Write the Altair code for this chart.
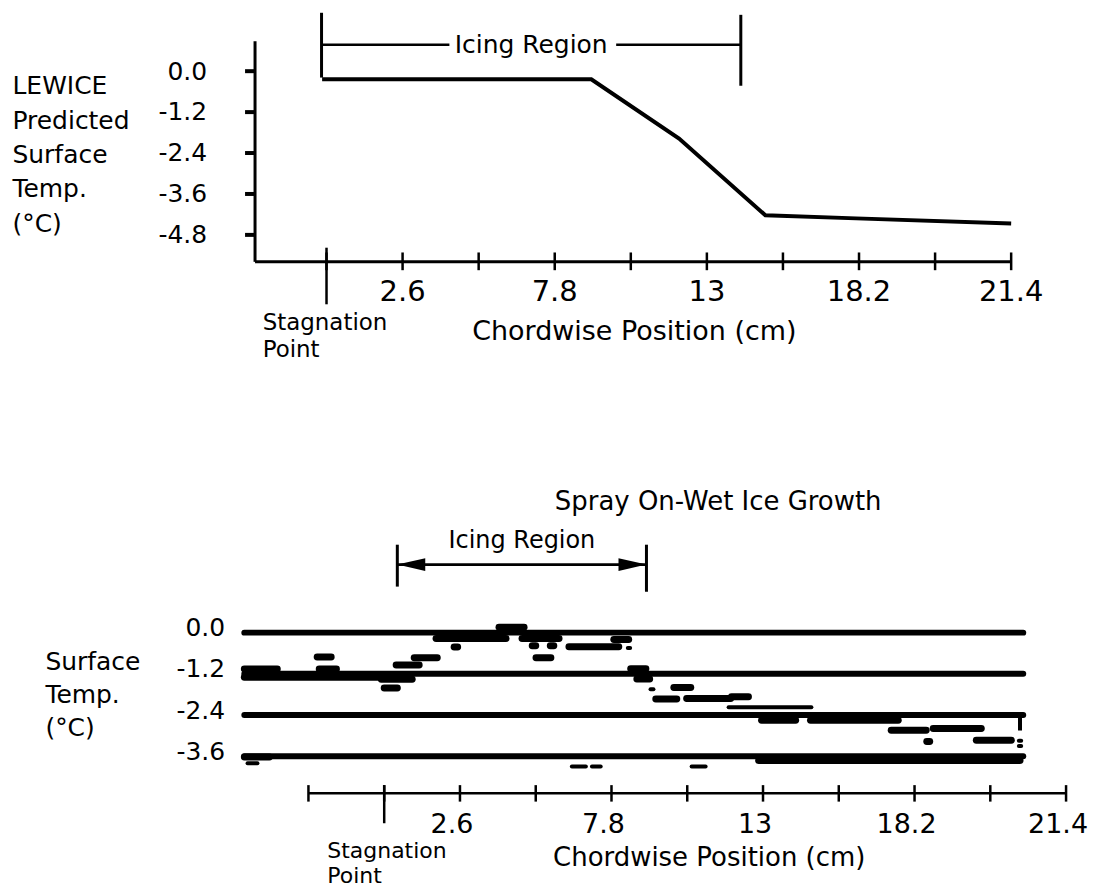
import altair as alt
import pandas as pd

FONT = "DejaVu Sans"

# ---------------- data: top panel (LEWICE prediction) ----------------
lew_x = [-0.15, 9.05, 12.05, 15.0, 18.1, 23.4]          # chordwise position (cm)
lew_t = [-0.24, -0.24, -1.98, -4.23, -4.32, -4.47]      # surface temperature (C)
top_temp_ticks = [0.0, -1.2, -2.4, -3.6, -4.8]
chord_ticks = [0.0, 2.6, 5.2, 7.8, 10.4, 13.0, 15.6, 18.2, 20.8, 23.4]
chord_label_at = [2.6, 7.8, 13.0, 18.2, 23.4]
chord_label_text = ["2.6", "7.8", "13", "18.2", "21.4"]
top_icing = [-0.17, 14.16]          # icing region extent (cm)
top_icing_gap = [4.2, 9.9]          # where the label interrupts the bracket

# ---------------- data: bottom panel (spray on-wet ice growth) ----------------
bot_temp_levels = [0.0, -1.2, -2.4, -3.6]
bot_line_extent = [-4.8, 21.93]
blob_x1 = [1.78, 3.94, 4.73, 7.88, -2.30, 1.03, 2.40, 5.08, 5.70, 5.21, 6.34,
           -4.80, -4.80, -2.23, -0.10, 0.41, 0.00, 8.46, 8.67, 9.94, 9.32, 10.38,
           11.92, 12.95, 14.63, 17.40, 18.84, 18.62, 20.32, 12.85, -4.80]
blob_x2 = [4.18, 4.80, 6.00, 8.39, -1.82, 1.82, 2.52, 5.20, 5.82, 5.72, 8.05,
           -3.67, -0.10, -1.64, 0.96, 1.20, 0.45, 8.98, 9.11, 10.52, 10.04, 11.89,
           12.50, 14.12, 17.64, 18.60, 20.49, 18.72, 21.52, 21.82, -3.94]
blob_t = [-0.17, 0.16, -0.17, -0.20, -0.71, -0.73, -0.42, -0.38, -0.38, -0.73, -0.41,
          -1.06, -1.30, -1.06, -1.36, -0.94, -1.61, -1.05, -1.35, -1.60, -1.93, -1.92,
          -1.87, -2.55, -2.55, -2.84, -2.79, -3.17, -3.13, -3.72, -3.62]
fine_x1 = [8.36, 9.14, 11.82, -4.69, 6.44, 7.13, 10.55, 21.78, 21.78]
fine_x2 = [8.44, 9.24, 14.66, -4.35, 6.92, 7.43, 11.03, 21.86, 21.86]
fine_t = [-0.45, -1.65, -2.17, -3.80, -3.90, -3.90, -3.90, -3.15, -3.30]
end_drop_x = [21.82]
end_drop_t1 = [-2.40]
end_drop_t2 = [-2.85]
bot_ticks = [-2.6] + chord_ticks
bot_icing = [0.45, 9.0]

# ---------------- scales & axes ----------------
X_TOP = [-2.46, 23.4]
T_TOP = [-5.58, 0.89]
X_BOT = [-4.45, 23.4]
T_BOT = [-4.68, 0.9]

xs_top = alt.Scale(domain=X_TOP, nice=False, zero=False)
ys_top = alt.Scale(domain=T_TOP, nice=False, zero=False)
xs_bot = alt.Scale(domain=X_BOT, nice=False, zero=False)
ys_bot = alt.Scale(domain=T_BOT, nice=False, zero=False)

LABEL_EXPR = "replace(format(datum.value, '.1f'), '\u2212', '-')"

ax_top_x = alt.Axis(domain=True, domainColor="black", domainWidth=3,
                    ticks=False, labels=False, grid=False,
                    title="Chordwise Position (cm)", titleFont=FONT,
                    titleFontSize=27, titleFontWeight="normal",
                    titleColor="black", titleX=380, titleY=70,
                    titleAlign="center", titleBaseline="middle")
ax_top_y = alt.Axis(values=top_temp_ticks, domain=True, domainColor="black",
                    domainWidth=3, ticks=True, tickColor="black", tickWidth=4,
                    tickSize=10, labelExpr=LABEL_EXPR, labelFont=FONT,
                    labelFontSize=25, labelColor="black", labelPadding=38,
                    grid=False,
                    title=["LEWICE", "Predicted", "Surface", "Temp.", "(\u00b0C)"],
                    titleAngle=0, titleAlign="left", titleBaseline="middle",
                    titleX=-243, titleY=45, titleLineHeight=34.5,
                    titleFont=FONT, titleFontSize=25,
                    titleFontWeight="normal", titleColor="black")
ax_bot_x = alt.Axis(domain=False, ticks=False, labels=False, grid=False,
                    title="Chordwise Position (cm)", titleFont=FONT,
                    titleFontSize=26, titleFontWeight="normal",
                    titleColor="black", titleX=455, titleY=64,
                    titleAlign="center", titleBaseline="middle")
ax_bot_y = alt.Axis(values=bot_temp_levels, domain=False, ticks=False, tickSize=0,
                    labelExpr=LABEL_EXPR, labelFont=FONT, labelFontSize=25,
                    labelColor="black", labelPadding=30, labelOffset=-5, grid=False,
                    title=["Surface", "Temp.", "(\u00b0C)"],
                    titleAngle=0, titleAlign="left", titleBaseline="middle",
                    titleX=-210, titleY=60, titleLineHeight=33,
                    titleFont=FONT, titleFontSize=25,
                    titleFontWeight="normal", titleColor="black")

TOP = dict(xs=xs_top, ys=ys_top, ax=ax_top_x, ay=ax_top_y)
BOT = dict(xs=xs_bot, ys=ys_bot, ax=ax_bot_x, ay=ax_bot_y)


def xq(field, P):
    return alt.X(field, type="quantitative", scale=P["xs"], axis=P["ax"])


def yq(field, P):
    return alt.Y(field, type="quantitative", scale=P["ys"], axis=P["ay"])


def yd(v, P):
    return alt.YDatum(datum=v, scale=P["ys"], axis=P["ay"])


# ================= TOP PANEL =================
top_df = pd.DataFrame({"x": lew_x, "t": lew_t})
curve = alt.Chart(top_df).mark_line(color="black", strokeWidth=4).encode(
    x=xq("x", TOP), y=yq("t", TOP), order=alt.Order("x:Q"))

top_ticks = alt.Chart(pd.DataFrame({"x": chord_ticks})).mark_rule(color="black", strokeWidth=2.5).encode(
    x=xq("x", TOP), y=yd(T_TOP[0] + 0.26, TOP), y2=alt.Y2Datum(T_TOP[0] - 0.26))

top_stag = alt.Chart(pd.DataFrame({"x": [0.0]})).mark_rule(color="black", strokeWidth=2.5).encode(
    x=xq("x", TOP), y=yd(T_TOP[0] + 0.4, TOP), y2=alt.Y2Datum(T_TOP[0] - 1.26))

top_labels = alt.Chart(pd.DataFrame({"x": chord_label_at, "txt": chord_label_text})).mark_text(
    font=FONT, fontSize=29, color="black", baseline="middle", dy=31
).encode(x=xq("x", TOP), y=yd(T_TOP[0], TOP), text="txt:N")

top_stag_text = alt.Chart(pd.DataFrame({"x": [0.0]})).mark_text(
    font=FONT, fontSize=23, color="black", align="left", baseline="top",
    text=["Stagnation", "Point"], lineHeight=27, dx=-64, dy=51
).encode(x=xq("x", TOP), y=yd(T_TOP[0], TOP))

top_br_v = pd.DataFrame({"x": top_icing, "t1": [1.71, 1.65], "t2": [-0.19, -0.43]})
top_bracket_v = alt.Chart(top_br_v).mark_rule(color="black", strokeWidth=3).encode(
    x=xq("x", TOP), y=yq("t1", TOP), y2="t2:Q")
top_br_h = pd.DataFrame({"x1": [top_icing[0], top_icing_gap[1]],
                         "x2": [top_icing_gap[0], top_icing[1]]})
top_bracket_h = alt.Chart(top_br_h).mark_rule(color="black", strokeWidth=2.5).encode(
    x=xq("x1", TOP), x2="x2:Q", y=yd(0.77, TOP))
top_icing_text = alt.Chart(pd.DataFrame({"a": [top_icing[0]], "b": [top_icing[1]]})).transform_calculate(
    mid="(datum.a + datum.b) / 2"
).mark_text(font=FONT, fontSize=25, color="black", baseline="middle", text="Icing Region").encode(
    x=xq("mid", TOP), y=yd(0.77, TOP))

top = alt.layer(curve, top_ticks, top_stag, top_labels, top_stag_text,
                top_bracket_v, top_bracket_h, top_icing_text).properties(width=758, height=221)

# ================= BOTTOM PANEL =================
lvl_df = pd.DataFrame({"t": bot_temp_levels, "a": bot_line_extent[0], "b": bot_line_extent[1]})
ref_lines = alt.Chart(lvl_df).mark_rule(color="black", strokeWidth=6, strokeCap="round").encode(
    x=xq("a", BOT), x2="b:Q", y=yq("t", BOT))

blobs = alt.Chart(pd.DataFrame({"x1": blob_x1, "x2": blob_x2, "t": blob_t})).mark_rule(
    color="black", strokeWidth=7, strokeCap="round").encode(
    x=xq("x1", BOT), x2="x2:Q", y=yq("t", BOT))

fines = alt.Chart(pd.DataFrame({"x1": fine_x1, "x2": fine_x2, "t": fine_t})).mark_rule(
    color="black", strokeWidth=4, strokeCap="round").encode(
    x=xq("x1", BOT), x2="x2:Q", y=yq("t", BOT))

drop = alt.Chart(pd.DataFrame({"x": end_drop_x, "t1": end_drop_t1, "t2": end_drop_t2})).mark_rule(
    color="black", strokeWidth=4).encode(x=xq("x", BOT), y=yq("t1", BOT), y2="t2:Q")

bot_axis = alt.Chart(pd.DataFrame({"a": [bot_ticks[0]], "b": [bot_ticks[-1]]})).mark_rule(
    color="black", strokeWidth=2.5).encode(x=xq("a", BOT), x2="b:Q", y=yd(T_BOT[0], BOT))

bot_tick_marks = alt.Chart(pd.DataFrame({"x": bot_ticks})).mark_rule(color="black", strokeWidth=2.5).encode(
    x=xq("x", BOT), y=yd(T_BOT[0] + 0.24, BOT), y2=alt.Y2Datum(T_BOT[0] - 0.24))

bot_stag = alt.Chart(pd.DataFrame({"x": [0.0]})).mark_rule(color="black", strokeWidth=2.5).encode(
    x=xq("x", BOT), y=yd(T_BOT[0] + 0.24, BOT), y2=alt.Y2Datum(T_BOT[0] - 0.87))

bot_labels = alt.Chart(pd.DataFrame({"x": chord_label_at, "txt": chord_label_text})).mark_text(
    font=FONT, fontSize=27, color="black", baseline="middle", dy=32, dx=-8
).encode(x=xq("x", BOT), y=yd(T_BOT[0], BOT), text="txt:N")

bot_stag_text = alt.Chart(pd.DataFrame({"x": [0.0]})).mark_text(
    font=FONT, fontSize=22, color="black", align="left", baseline="top",
    text=["Stagnation", "Point"], lineHeight=25, dx=-57, dy=48
).encode(x=xq("x", BOT), y=yd(T_BOT[0], BOT))

bot_br_v = pd.DataFrame({"x": bot_icing, "t1": [2.56, 2.56], "t2": [1.34, 1.19]})
bot_bracket_v = alt.Chart(bot_br_v).mark_rule(color="black", strokeWidth=3).encode(
    x=xq("x", BOT), y=yq("t1", BOT), y2="t2:Q")
bot_bracket_h = alt.Chart(pd.DataFrame({"a": [bot_icing[0]], "b": [bot_icing[1]]})).mark_rule(
    color="black", strokeWidth=3).encode(x=xq("a", BOT), x2="b:Q", y=yd(1.98, BOT))
arrows = alt.Chart(pd.DataFrame({"x": bot_icing, "side": ["left", "right"]})).mark_point(
    filled=True, opacity=1, color="black", size=784, strokeWidth=0).encode(
    x=xq("x", BOT), y=yd(1.98, BOT),
    shape=alt.Shape("side:N", scale=alt.Scale(
        domain=["left", "right"],
        range=["M0,0L2,-0.45L2,0.45Z", "M0,0L-2,-0.45L-2,0.45Z"]), legend=None))
bot_icing_text = alt.Chart(pd.DataFrame({"a": [bot_icing[0]], "b": [bot_icing[1]]})).transform_calculate(
    mid="(datum.a + datum.b) / 2"
).mark_text(font=FONT, fontSize=24, color="black", baseline="middle", dy=-24, text="Icing Region").encode(
    x=xq("mid", BOT), y=yd(1.98, BOT))

bottom = alt.layer(ref_lines, blobs, fines, drop, bot_axis, bot_tick_marks, bot_stag,
                   bot_labels, bot_stag_text, bot_bracket_v, bot_bracket_h, arrows,
                   bot_icing_text).properties(
    width=813, height=192,
    title=alt.TitleParams("Spray On-Wet Ice Growth", font=FONT, fontSize=26,
                          fontWeight="normal", color="black", anchor="middle",
                          frame="group", dx=58, offset=14))

chart = alt.vconcat(top, bottom, spacing=341, bounds="flush").properties(
    padding={"left": 12, "top": 10, "right": 10, "bottom": 5},
    background="white",
).configure_view(stroke=None)

chart.save("out.html", embed_options={"renderer": "svg", "actions": False})
